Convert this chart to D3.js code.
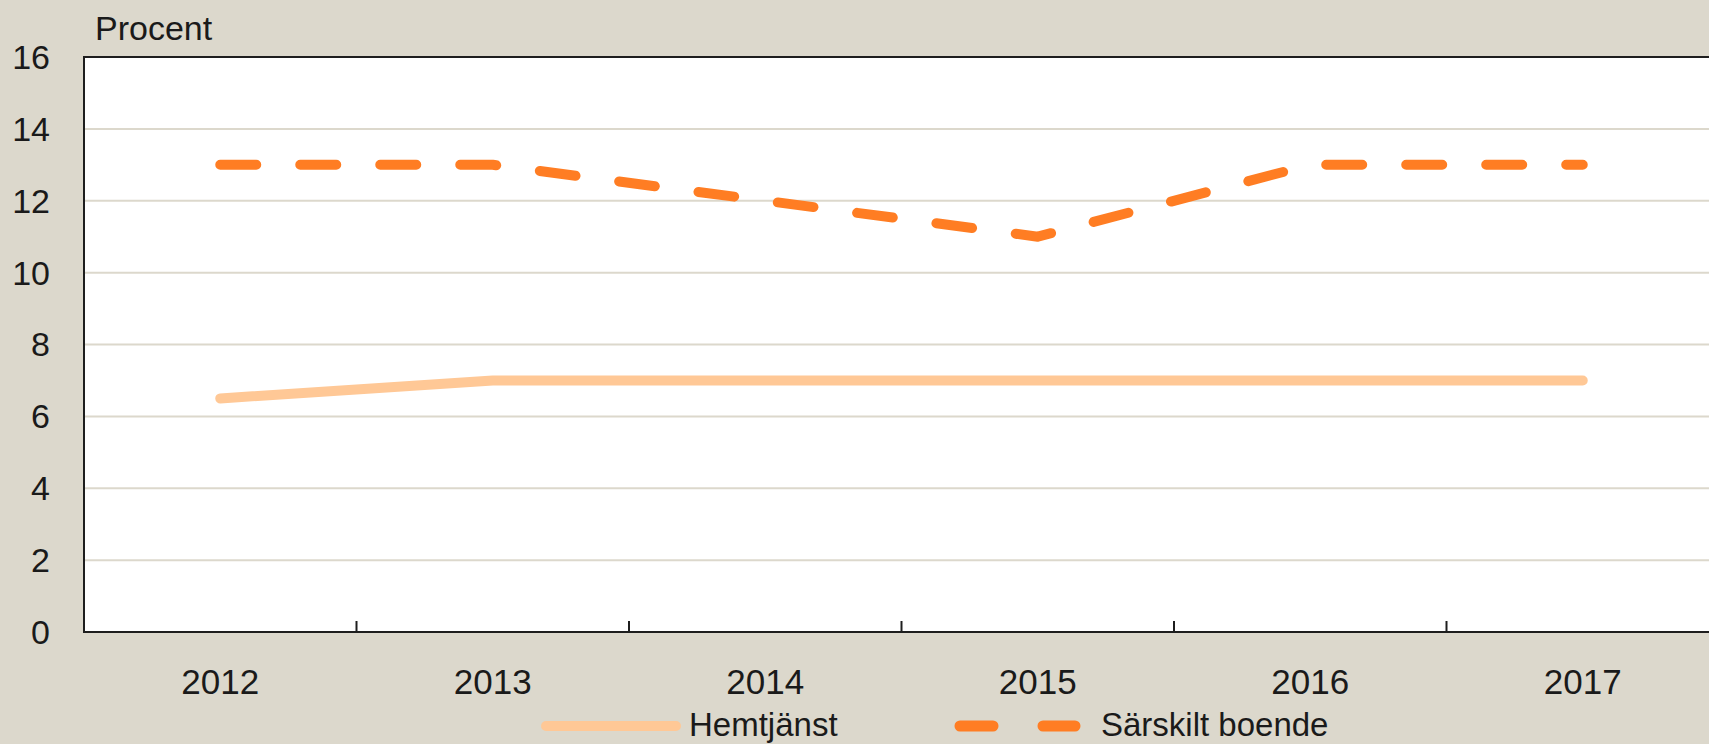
<!DOCTYPE html>
<html>
<head>
<meta charset="utf-8">
<script src="https://d3js.org/d3.v7.min.js"></script>
<style>
    body { margin: 0; background: #dcd8cc; overflow: hidden; }
    svg { display: block; }
    text { font-family: "Liberation Sans", Arial, sans-serif; fill: #1a1a1a; }
</style>
</head>
<body>
<script>
// data
const years = ['2012', '2013', '2014', '2015', '2016', '2017'];
const hemtjanst = [6.5, 7, 7, 7, 7, 7];
const sarskiltBoende = [13, 13, 12, 11, 13, 13];
const yTicks = [0, 2, 4, 6, 8, 10, 12, 14, 16];
const seriesNames = ['Hemtjänst', 'Särskilt boende'];

const width = 1709, height = 744;
const margin = { top: 57, left: 84, bottom: 632, right: 1719 };

const svg = d3.select('body')
    .append('svg')
    .attr('width', width)
    .attr('height', height);

const x = d3.scaleBand()
    .domain(years)
    .range([margin.left, margin.right]);

const y = d3.scaleLinear()
    .domain([0, 16])
    .range([margin.bottom, margin.top]);

// plot background
svg.append('rect')
    .attr('x', margin.left)
    .attr('y', margin.top)
    .attr('width', margin.right - margin.left)
    .attr('height', margin.bottom - margin.top)
    .attr('fill', 'white');

// gridlines
svg.selectAll('line.grid')
    .data(yTicks.filter(d => d > 0 && d < 16))
    .enter()
    .append('line')
    .attr('class', 'grid')
    .attr('x1', margin.left)
    .attr('x2', margin.right)
    .attr('y1', d => y(d))
    .attr('y2', d => y(d))
    .attr('stroke', '#dcd8cc')
    .attr('stroke-width', 2);

// y labels
svg.selectAll('text.ylab')
    .data(yTicks)
    .enter()
    .append('text')
    .attr('class', 'ylab')
    .attr('x', 50)
    .attr('y', d => y(d))
    .attr('dy', '0.35em')
    .attr('text-anchor', 'end')
    .style('font-size', '34px')
    .text(d => d);

svg.append('text')
    .attr('x', 95)
    .attr('y', 40)
    .style('font-size', '34px')
    .text('Procent');

// frame (top, left, bottom)
svg.append('path')
    .attr('d', d3.line()([[margin.right, margin.top], [margin.left, margin.top], [margin.left, margin.bottom], [margin.right, margin.bottom]]))
    .attr('fill', 'none')
    .attr('stroke', '#1e1e1e')
    .attr('stroke-width', 2);

// x ticks between categories, pointing inwards
svg.selectAll('line.xtick')
    .data(years.slice(1))
    .enter()
    .append('line')
    .attr('class', 'xtick')
    .attr('x1', d => x(d))
    .attr('x2', d => x(d))
    .attr('y1', margin.bottom)
    .attr('y2', margin.bottom - 11)
    .attr('stroke', '#1e1e1e')
    .attr('stroke-width', 2);

svg.selectAll('text.xlab')
    .data(years)
    .enter()
    .append('text')
    .attr('class', 'xlab')
    .attr('x', d => x(d) + x.bandwidth() / 2)
    .attr('y', 694)
    .attr('text-anchor', 'middle')
    .style('font-size', '35px')
    .text(d => d);

// lines
const line = d3.line()
    .x((d, i) => x(years[i]) + x.bandwidth() / 2)
    .y(d => y(d));

svg.append('path')
    .datum(hemtjanst)
    .attr('d', line)
    .attr('fill', 'none')
    .attr('stroke', '#ffc896')
    .attr('stroke-width', 10)
    .attr('stroke-linecap', 'round')
    .attr('stroke-linejoin', 'round');

svg.append('path')
    .datum(sarskiltBoende)
    .attr('d', line)
    .attr('fill', 'none')
    .attr('stroke', '#ff7d23')
    .attr('stroke-width', 10)
    .attr('stroke-linecap', 'round')
    .attr('stroke-linejoin', 'round')
    .attr('stroke-dasharray', '36,44');

// legend
const legend = svg.append('g');
legend.append('line')
    .attr('x1', 546).attr('x2', 676)
    .attr('y1', 726).attr('y2', 726)
    .attr('stroke', '#ffc896')
    .attr('stroke-width', 10)
    .attr('stroke-linecap', 'round');
legend.append('text')
    .attr('x', 689)
    .attr('y', 736)
    .style('font-size', '33px')
    .text(seriesNames[0]);

legend.append('line')
    .attr('x1', 960).attr('x2', 1075)
    .attr('y1', 726).attr('y2', 726)
    .attr('stroke', '#ff7d23')
    .attr('stroke-width', 11)
    .attr('stroke-linecap', 'round')
    .attr('stroke-dasharray', '33,50');
legend.append('text')
    .attr('x', 1101)
    .attr('y', 736)
    .style('font-size', '33px')
    .text(seriesNames[1]);
</script>
</body>
</html>
